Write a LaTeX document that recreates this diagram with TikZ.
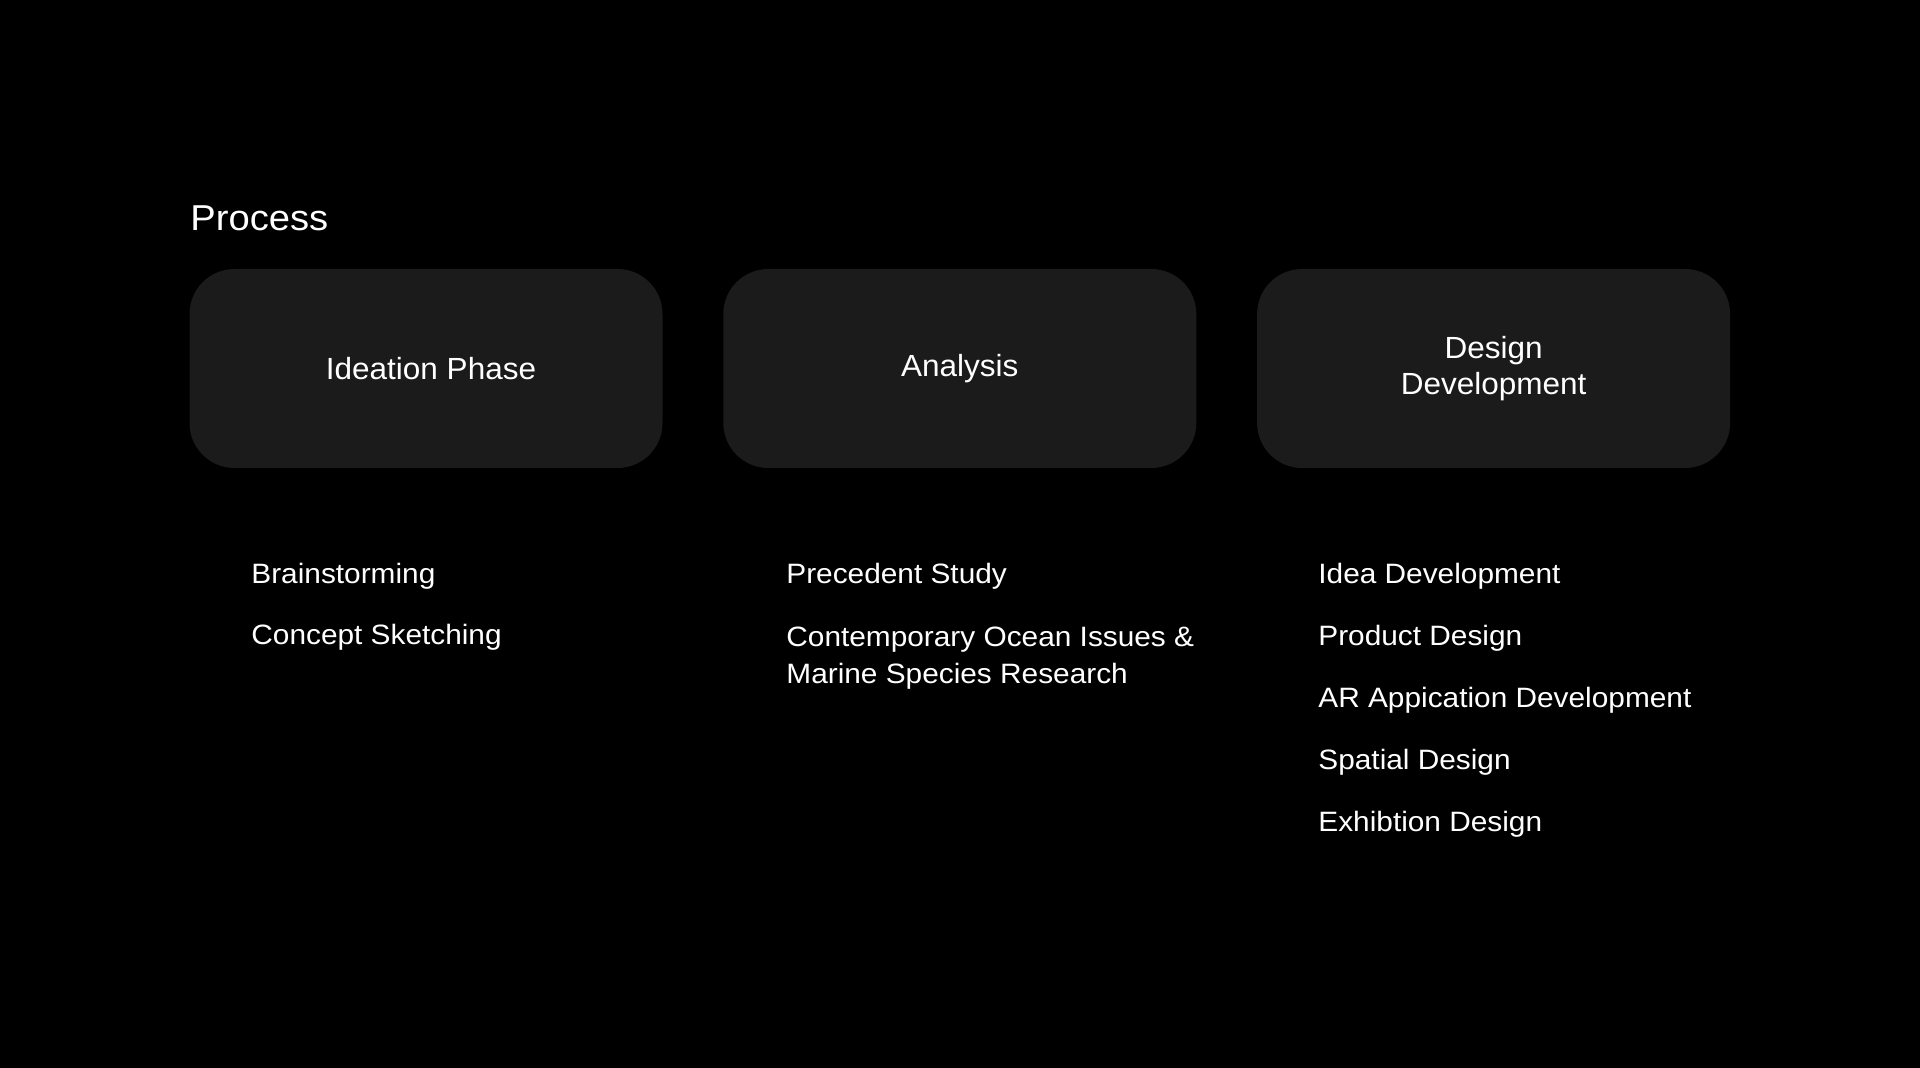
\documentclass[tikz,border=0pt]{standalone}
\usepackage{fontspec}
\setmainfont{Liberation Sans}
\newfontfamily\titlefont[FakeStretch=1.06]{Liberation Sans}
\newfontfamily\phasefont[FakeStretch=1.03]{Liberation Sans}
\newfontfamily\itemfont[FakeStretch=1.065]{Liberation Sans}
\usetikzlibrary{positioning}
\definecolor{boxgray}{HTML}{1B1B1B}
\begin{document}
\begin{tikzpicture}[x=0.5pt,y=-0.5pt,
	phase node/.style={rectangle,rounded corners=22.5pt,fill=boxgray,text=white,minimum width=236.5pt,minimum height=99.5pt,align=center,font=\phasefont\fontsize{15.3}{18}\selectfont},
	item node/.style={anchor=base west,text=white,inner sep=0pt,align=left,font=\itemfont\fontsize{14}{18.5}\selectfont}]

	\fill[black] (0,0) rectangle (1920,1068);
	\node[anchor=base west,text=white,inner sep=0pt,font=\titlefont\fontsize{18}{22}\selectfont] (title) at (190,231) {Process};

	\node[phase node] (ideation) at (426,368.5) {\hspace*{5pt}Ideation Phase};
	\node[phase node] (analysis) [right=30pt of ideation] {Analysis};
	\node[phase node] (design) [right=30pt of analysis] {Design\\Development};

	\node[item node] (brain) at (251,583) {Brainstorming};
	\node[item node] (concept) at ([yshift=-30.5pt]brain.base west) {Concept Sketching};

	\node[item node] (precedent) at (786,583) {Precedent Study};
	% base of a two-line node sits on its last line
	\node[item node] (ocean) at ([yshift=-50pt]precedent.base west) {Contemporary Ocean Issues \&\\Marine Species Research};

	\node[item node] (idea) at (1318,583) {Idea Development};
	\node[item node] (product) at ([yshift=-31pt]idea.base west) {Product Design};
	\node[item node] (arapp) at ([yshift=-31pt]product.base west) {AR Appication Development};
	\node[item node] (spatial) at ([yshift=-31pt]arapp.base west) {Spatial Design};
	\node[item node] (exhibit) at ([yshift=-31pt]spatial.base west) {Exhibtion Design};

\end{tikzpicture}
\end{document}
